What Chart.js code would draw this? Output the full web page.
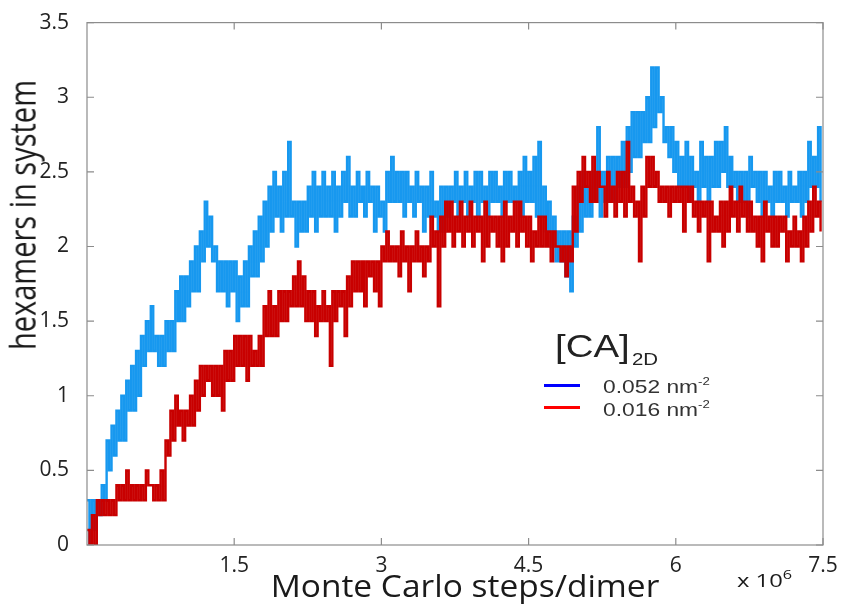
<!DOCTYPE html>
<html>
<head>
<meta charset="utf-8">
<script src="https://cdn.jsdelivr.net/npm/chart.js@4.4.1/dist/chart.umd.min.js"></script>
<style>
  html, body { margin: 0; padding: 0; background: #fff; }
  #wrap { position: relative; width: 847px; height: 609px; }
  .txt { position: absolute; white-space: nowrap; color: #1a1a1a; line-height: 1; }
  #yTitle { font-family: 'Open Sans'; font-size: 29px; left: 21px; top: 215px;
            transform: translate(-50%, -50%) rotate(-90deg) scaleY(1.25); }
  #xTitle { font-family: 'Open Sans'; font-size: 31px; left: 465px; top: 585px;
            transform: translate(-50%, -50%) scaleX(1.08); }
  #xExp { font-family: 'Open Sans'; font-size: 19px; left: 737px; top: 568px;
          transform-origin: left top; transform: scaleX(1.25); }
  #xExp sup { font-size: 13px; vertical-align: 8px; }
  .leg { font-family: 'Liberation Sans', Arial, sans-serif; color: #333;
         transform-origin: left top; transform: scaleX(1.2); }
  .leg sup { font-size: 11px; vertical-align: 8px; }
  .swatch { position: absolute; left: 544px; width: 36px; height: 3px; }
</style>
</head>
<body>
<div id="wrap">
  <canvas id="hexChart"></canvas>
  <div class="txt" id="yTitle">hexamers in system</div>
  <div class="txt" id="xTitle">Monte Carlo steps/dimer</div>
  <div class="txt" id="xExp">x 10<sup>6</sup></div>
  <div class="txt leg" style="font-size:32px; left:555px; top:330px; color:#222;">[CA]</div>
  <div class="txt leg" style="font-size:17px; left:632px; top:351px; color:#222;">2D</div>
  <div class="swatch" style="top:384px; background:#0000ff;"></div>
  <div class="swatch" style="top:406px; background:#ff0000;"></div>
  <div class="txt leg" style="font-size:19px; left:603px; top:376px;">0.052 nm<sup>-2</sup></div>
  <div class="txt leg" style="font-size:19px; left:603px; top:399px;">0.016 nm<sup>-2</sup></div>
</div>
<script>
// x in units of 10^6 Monte Carlo steps/dimer, one bin every 0.05
const binStep = 0.05;
const xTicks = [1.5, 3, 4.5, 6, 7.5];
const yTicks = [0, 0.5, 1, 1.5, 2, 2.5, 3, 3.5];

// 0.052 nm^-2 (blue): low / high edge of the flickering band in each bin
const blueLo = [
  0.0,0.1,0.2,0.3,0.5,0.6,0.7,0.7,0.9,0.9,
  1.0,1.2,1.3,1.3,1.2,1.2,1.3,1.3,1.5,1.5,
  1.6,1.7,1.7,1.9,2.0,1.9,1.7,1.7,1.6,1.7,
  1.5,1.6,1.6,1.8,1.8,1.9,2.0,2.1,2.2,2.1,
  2.2,2.2,2.0,2.1,2.1,2.2,2.1,2.2,2.2,2.2,
  2.1,2.2,2.3,2.2,2.2,2.3,2.2,2.3,2.1,2.2,
  2.1,2.3,2.3,2.3,2.2,2.3,2.2,2.3,2.1,2.2,
  2.2,2.1,2.1,2.2,2.3,2.2,2.3,2.2,2.3,2.2,
  2.3,2.2,2.3,2.3,2.2,2.3,2.3,2.3,2.2,2.3,
  2.3,2.2,2.2,2.1,2.0,1.9,1.9,1.8,1.7,2.0,
  2.1,2.2,2.2,2.3,2.2,2.3,2.3,2.3,2.4,2.4,
  2.5,2.6,2.6,2.7,2.7,2.8,2.9,2.7,2.6,2.5,
  2.4,2.4,2.3,2.4,2.3,2.4,2.3,2.4,2.4,2.5,
  2.4,2.4,2.3,2.3,2.2,2.4,2.3,2.2,2.3,2.2,
  2.3,2.3,2.2,2.3,2.3,2.2,2.3,2.4,2.4,2.3
];
const blueHi = [
  0.3,0.3,0.3,0.4,0.7,0.8,0.9,1.0,1.1,1.2,
  1.3,1.4,1.5,1.6,1.4,1.4,1.5,1.5,1.7,1.8,
  1.8,1.9,2.0,2.1,2.3,2.2,2.0,1.9,1.9,1.9,
  1.9,1.8,1.9,2.0,2.1,2.2,2.3,2.4,2.5,2.4,
  2.5,2.7,2.3,2.3,2.3,2.4,2.5,2.4,2.5,2.4,
  2.5,2.4,2.5,2.6,2.4,2.5,2.4,2.5,2.4,2.4,
  2.3,2.5,2.6,2.5,2.5,2.5,2.4,2.5,2.4,2.4,
  2.5,2.3,2.4,2.4,2.4,2.5,2.4,2.5,2.4,2.5,
  2.5,2.4,2.5,2.5,2.4,2.5,2.5,2.4,2.5,2.6,
  2.5,2.6,2.7,2.4,2.3,2.2,2.1,2.1,2.1,2.2,
  2.4,2.5,2.4,2.5,2.8,2.5,2.6,2.6,2.6,2.7,
  2.8,2.9,2.9,2.9,3.0,3.2,3.2,3.0,2.8,2.8,
  2.7,2.6,2.7,2.6,2.5,2.7,2.6,2.6,2.7,2.7,
  2.8,2.6,2.5,2.5,2.5,2.6,2.5,2.5,2.5,2.4,
  2.5,2.5,2.4,2.5,2.4,2.5,2.5,2.7,2.6,2.8
];

// 0.016 nm^-2 (red)
const redLo = [
  0.0,0.0,0.2,0.2,0.2,0.2,0.3,0.3,0.3,0.3,
  0.3,0.3,0.4,0.3,0.3,0.3,0.6,0.7,0.8,0.7,
  0.8,0.8,0.9,1.0,1.1,1.0,1.0,0.9,1.1,1.1,
  1.2,1.2,1.1,1.2,1.2,1.2,1.4,1.4,1.4,1.5,
  1.5,1.6,1.6,1.6,1.5,1.5,1.4,1.5,1.5,1.2,
  1.5,1.6,1.4,1.6,1.7,1.7,1.6,1.8,1.7,1.6,
  1.9,1.9,1.9,1.8,1.9,1.7,1.9,1.9,1.8,1.9,
  2.0,1.6,2.0,2.1,2.0,2.1,2.0,2.1,2.0,2.1,
  1.9,2.0,2.1,2.0,1.9,2.0,2.1,2.0,2.1,2.0,
  1.9,2.0,2.0,2.0,1.9,2.0,1.9,1.8,1.9,2.1,
  2.3,2.4,2.3,2.3,2.4,2.2,2.3,2.2,2.3,2.2,
  2.3,2.2,1.9,2.2,2.4,2.4,2.3,2.3,2.2,2.3,
  2.3,2.1,2.3,2.2,2.1,2.2,1.9,2.1,2.1,2.0,
  2.1,2.2,2.1,2.2,2.1,2.1,2.0,1.9,2.1,2.0,
  2.0,2.1,1.9,2.0,2.0,1.9,2.0,2.1,2.2,2.1
];
const redHi = [
  0.1,0.2,0.3,0.3,0.3,0.3,0.4,0.4,0.5,0.4,
  0.4,0.4,0.5,0.4,0.4,0.5,0.7,0.9,1.0,0.9,
  0.9,1.0,1.1,1.2,1.2,1.2,1.2,1.2,1.3,1.3,
  1.4,1.4,1.4,1.4,1.3,1.4,1.6,1.7,1.6,1.7,
  1.7,1.7,1.8,1.9,1.8,1.7,1.7,1.6,1.7,1.6,
  1.7,1.7,1.7,1.8,1.9,1.9,1.9,1.9,1.9,1.9,
  2.0,2.1,2.0,2.0,2.1,2.0,2.0,2.1,2.0,2.0,
  2.2,2.1,2.2,2.3,2.3,2.2,2.3,2.2,2.3,2.2,
  2.2,2.3,2.2,2.2,2.2,2.3,2.2,2.3,2.3,2.2,
  2.2,2.1,2.2,2.2,2.1,2.1,2.0,2.0,2.0,2.4,
  2.5,2.6,2.5,2.6,2.5,2.4,2.5,2.4,2.5,2.5,
  2.7,2.4,2.3,2.4,2.6,2.6,2.5,2.4,2.4,2.4,
  2.4,2.4,2.4,2.4,2.3,2.3,2.3,2.3,2.2,2.3,
  2.3,2.4,2.3,2.4,2.3,2.3,2.2,2.2,2.3,2.2,
  2.2,2.2,2.2,2.1,2.2,2.1,2.2,2.3,2.4,2.3
];

// each bin: high value at its start, low value half a bin later
function zigzag(lo, hi) {
    const pts = [];
    for (let i = 0; i < lo.length; i++) {
        const x0 = i * binStep;
        pts.push({ x: x0, y: hi[i] }, { x: x0 + binStep / 2, y: lo[i] });
    }
    return pts;
}

// box round the plot with inward tick marks, like the original figure
const frameTicks = {
    id: 'frameTicks',
    afterDatasetsDraw(chart) {
        const { ctx, chartArea: a, scales: { x, y } } = chart;
        const len = 7;
        ctx.save();
        ctx.strokeStyle = '#8c8c8c';
        ctx.lineWidth = 1.2;
        ctx.strokeRect(a.left, a.top, a.right - a.left, a.bottom - a.top);
        ctx.beginPath();
        yTicks.forEach(v => {
            const p = y.getPixelForValue(v);
            ctx.moveTo(a.left, p); ctx.lineTo(a.left + len, p);
            ctx.moveTo(a.right, p); ctx.lineTo(a.right - len, p);
        });
        xTicks.forEach(v => {
            const p = x.getPixelForValue(v);
            ctx.moveTo(p, a.bottom); ctx.lineTo(p, a.bottom - len);
            ctx.moveTo(p, a.top); ctx.lineTo(p, a.top + len);
        });
        ctx.stroke();
        ctx.restore();
    }
};

Chart.defaults.font.family = "'Open Sans'";

new Chart(document.getElementById('hexChart').getContext('2d'), {
    type: 'line',
    data: {
        datasets: [{
            label: '0.016 nm-2',
            data: zigzag(redLo, redHi),
            borderColor: '#c80000',
            borderWidth: 2.4,
            stepped: true,
            pointRadius: 0,
            order: 1
        }, {
            label: '0.052 nm-2',
            data: zigzag(blueLo, blueHi),
            borderColor: '#1798ef',
            borderWidth: 2.4,
            stepped: true,
            pointRadius: 0,
            order: 2
        }]
    },
    options: {
        responsive: true,
        maintainAspectRatio: false,
        animation: false,
        layout: { padding: { left: 0, right: 24, top: 20, bottom: 0 } },
        plugins: {
            legend: { display: false },
            tooltip: { enabled: false }
        },
        scales: {
            x: {
                type: 'linear',
                min: 0,
                max: 7.5,
                afterFit: s => { s.height = 64; },
                afterBuildTicks: s => { s.ticks = xTicks.map(v => ({ value: v })); },
                grid: { display: false },
                border: { display: false },
                ticks: {
                    padding: 0,
                    maxRotation: 0,
                    color: '#222',
                    font: { size: 21 },
                    callback: v => String(v)
                }
            },
            y: {
                min: 0,
                max: 3.5,
                afterFit: s => { s.width = 87; },
                afterBuildTicks: s => { s.ticks = yTicks.map(v => ({ value: v })); },
                grid: { display: false },
                border: { display: false },
                ticks: {
                    padding: 10,
                    color: '#222',
                    font: { size: 21 },
                    callback: v => String(v)
                }
            }
        }
    },
    plugins: [frameTicks]
});
</script>
</body>
</html>
